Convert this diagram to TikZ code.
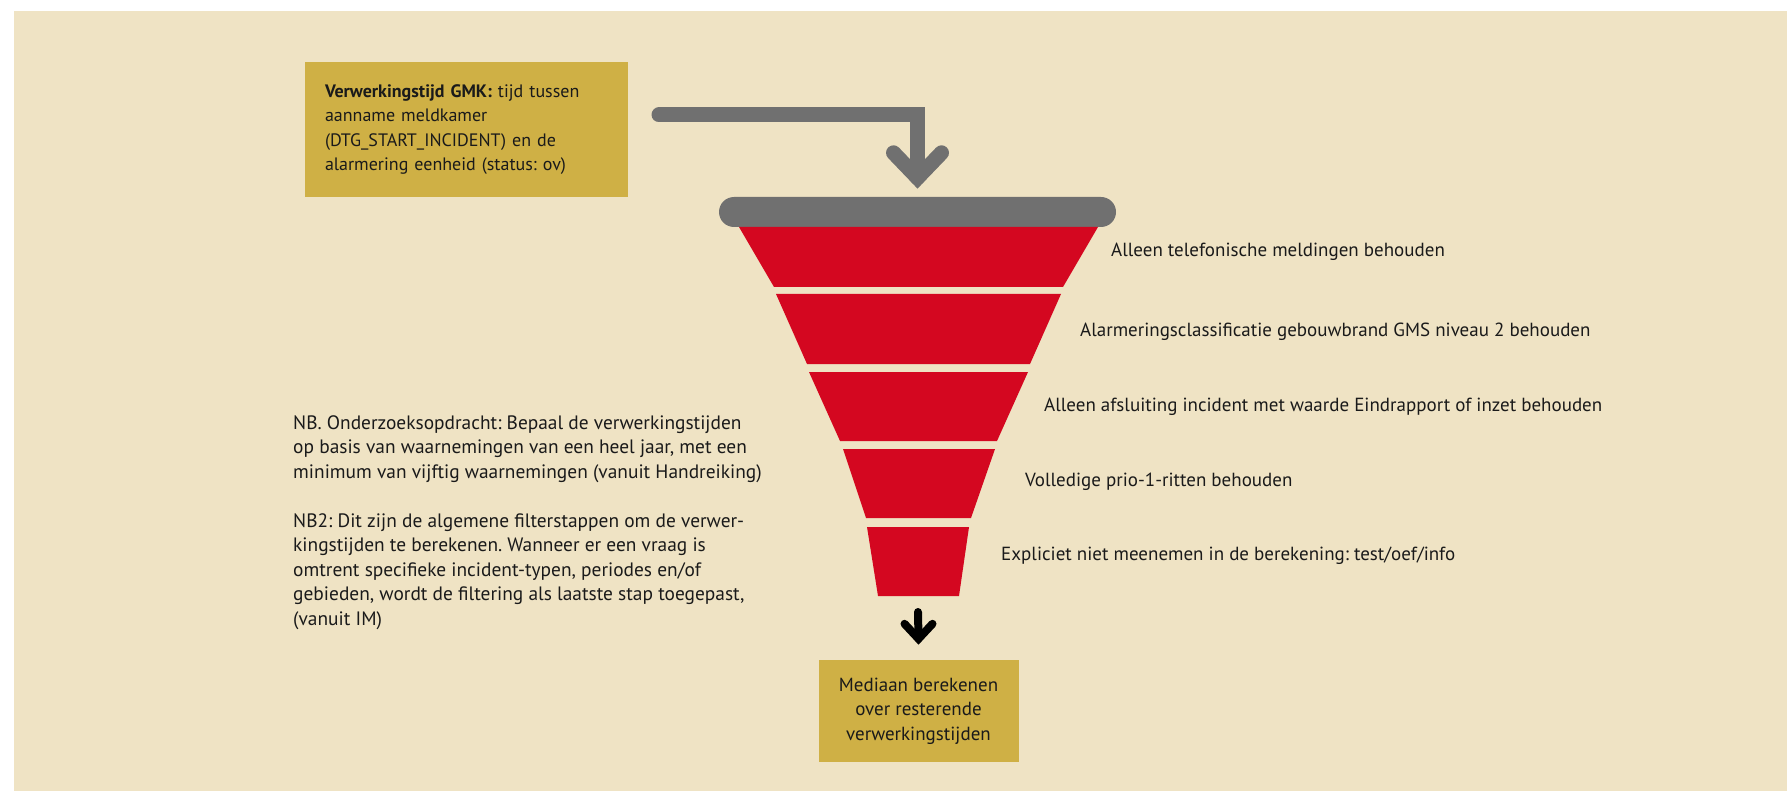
\documentclass[tikz,border=0pt]{standalone}
\usepackage{fontspec}
\setmainfont{PT Sans}
\usetikzlibrary{positioning}
\frenchspacing

\definecolor{beige}{RGB}{239,227,196}
\definecolor{goud}{RGB}{207,176,69}
\definecolor{rood}{RGB}{212,7,32}
\definecolor{grijs}{RGB}{112,112,112}
\definecolor{tekst}{RGB}{26,26,26}

\begin{document}
\begin{tikzpicture}[x=1pt, y=-1pt,
  every node/.style={font=\fontsize{19}{24.5}\selectfont, text=tekst, inner sep=0pt},
  stap/.style={fill=rood},
  uitleg/.style={anchor=base west},
  kader/.style={fill=goud},
  pijl/.style={draw=grijs, line width=15pt, line cap=round, line join=miter},
  zwartepijl/.style={draw=black, line width=8pt, line cap=round, line join=miter}]

  \useasboundingbox (0,0) rectangle (1787,791);
  \fill[beige] (14,11) rectangle (1787,791);

  % bovenste kader
  \node[kader, minimum width=323pt, minimum height=135pt, text width=283pt, align=left,
        font=\fontsize{18}{24.5}\selectfont] (gmk) at (466.5,129.5)
    {\textbf{Verwerkingstijd GMK:} tijd tussen\\aanname meldkamer\\(DTG\_START\_INCIDENT) en de\\alarmering eenheid (status: ov)};

  % rand van de trechter
  \node[fill=grijs, rounded corners=15pt, minimum width=397pt, minimum height=30pt] (rand) at (917.5,212) {};

  % filterstappen
  \foreach \yt/\lt/\rt/\yb/\lb/\rb in {227/739/1098/287/774/1063,
                                       294/776/1061/364/807/1030,
                                       372/809/1028/441/840/997,
                                       449/843/995/518/866/971,
                                       527/867/969/596/878/959}
    \fill[stap] (\lt,\yt) -- (\rt,\yt) -- (\rb,\yb) -- (\lb,\yb) -- cycle;

  \node[uitleg] (stap1) at (1111,256.5) {Alleen telefonische meldingen behouden};
  \node[uitleg] (stap2) at (1080,336.5) {Alarmeringsclassificatie gebouwbrand GMS niveau 2 behouden};
  \node[uitleg] (stap3) at (1044,411.5) {Alleen afsluiting incident met waarde Eindrapport of inzet behouden};
  \node[uitleg] (stap4) at (1025,486) {Volledige prio-1-ritten behouden};
  \node[uitleg] (stap5) at (1001,560.5) {Expliciet niet meenemen in de berekening: test/oef/info};

  % opmerkingen
  \node[anchor=north west, align=left, font=\fontsize{19.4}{24.5}\selectfont] (nb) at (293,415)
    {NB. Onderzoeksopdracht: Bepaal de verwerkingstijden\\
     op basis van waarnemingen van een heel jaar, met een\\
     minimum van vijftig waarnemingen (vanuit Handreiking)\\[24.5pt]
     NB2: Dit zijn de algemene filterstappen om de verwer-\\
     kingstijden te berekenen. Wanneer er een vraag is\\
     omtrent specifieke incident-typen, periodes en/of\\
     gebieden, wordt de filtering als laatste stap toegepast,\\
     (vanuit IM)};

  % onderste kader
  \node[kader, minimum width=200pt, minimum height=102pt, align=center] (mediaan) at (918.5,711)
    {Mediaan berekenen\\over resterende\\verwerkingstijden};

  % pijlen
  \coordinate (start) at (659,115);
  \coordinate (punt) at ([yshift=19pt]rand.north);
  \draw[pijl] (start) -| (punt);
  \draw[pijl] ([shift={(-24,-25)}]punt) -- (punt) -- ([shift={(24,-25)}]punt);

  \coordinate (onder) at (918,612);
  \coordinate (punt2) at ([yshift=21pt]mediaan.north);
  \draw[zwartepijl] (onder) -- (punt2);
  \draw[zwartepijl] ([shift={(-14,-15)}]punt2) -- (punt2) -- ([shift={(14,-15)}]punt2);

\end{tikzpicture}
\end{document}
